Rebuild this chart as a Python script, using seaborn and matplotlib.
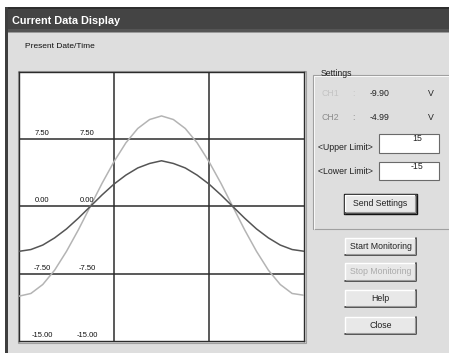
import pandas as pd
import matplotlib
matplotlib.use("Agg")
import matplotlib.pyplot as plt
import seaborn as sns
from matplotlib.patches import Rectangle

amostra = list(range(25))
ch1 = [-10.0, -9.7, -8.7, -7.1, -5.0, -2.6, 0.0, 2.6, 5.0, 7.1, 8.7, 9.7, 10.1,
       9.7, 8.7, 7.1, 5.0, 2.6, 0.0, -2.6, -5.0, -7.1, -8.7, -9.7, -9.9]
ch2 = [-5.0, -4.8, -4.3, -3.5, -2.5, -1.3, 0.0, 1.3, 2.5, 3.5, 4.3, 4.8, 5.1,
       4.8, 4.3, 3.5, 2.5, 1.3, 0.0, -1.3, -2.5, -3.5, -4.3, -4.8, -4.99]
rotulos_y = [7.5, 0.0, -7.5, -15.0]
limite_sup = 15
limite_inf = -15

df = pd.DataFrame({
    'amostra': amostra * 2,
    'valor': ch1 + ch2,
    'canal': ['CH1'] * len(ch1) + ['CH2'] * len(ch2),
})

sns.set_style("white")
plt.rcParams['font.family'] = ['Liberation Sans', 'DejaVu Sans']

W, H = 449, 353
fig = plt.figure(figsize=(W / 100, H / 100), dpi=100)
fig.patch.set_facecolor('white')

# fundo da janela em coordenadas de pixel
bg = fig.add_axes([0, 0, 1, 1])
bg.set_xlim(0, W)
bg.set_ylim(H, 0)
bg.axis('off')

cinza = '#dedede'
bg.add_patch(Rectangle((5, 7), W - 5, H - 7, color=cinza, lw=0))
bg.add_patch(Rectangle((5, 7), W - 5, 25, color='#444444', lw=0))
bg.add_patch(Rectangle((5, 7), W - 5, 2, color='#2e2e2e', lw=0))
bg.add_patch(Rectangle((5, 29), W - 5, 3, color='#555555', lw=0))
bg.add_patch(Rectangle((5, 32), W - 5, 1, color='#9a9a9a', lw=0))
bg.add_patch(Rectangle((5, 7), 3, H - 7, color='#3e3e3e', lw=0))
bg.text(12, 21, 'Current Data Display', color='white', fontsize=7.8,
        fontweight='bold', va='center', ha='left')
bg.text(25, 46, 'Present Date/Time', fontsize=6, va='center', ha='left', color='#111111')

# sombra do gráfico
bg.add_patch(Rectangle((18, 71), 288, 272, facecolor='none', edgecolor='#a0a0a0', lw=0.8))

# grupo Settings
bg.plot([313, 313, W], [229, 75, 75], color='#a0a0a0', lw=0.8)
bg.plot([313, W], [229, 229], color='#a0a0a0', lw=0.8)
bg.plot([314, 314, W], [229, 76, 76], color='white', lw=0.6)
bg.add_patch(Rectangle((319, 69), 33, 10, color=cinza, lw=0))
bg.text(321, 74, 'Settings', fontsize=6.3, va='center', ha='left', color='#222222')

fs = 6.3
bg.text(330, 93, 'CH1', fontsize=fs, va='center', ha='center', color='#c4c4c4')
bg.text(353, 93, ':', fontsize=fs, va='center', ha='center', color='#c4c4c4')
bg.text(380, 93, '-9.90', fontsize=fs, va='center', ha='center', color='#222222')
bg.text(431, 93, 'V', fontsize=fs, va='center', ha='center', color='#222222')
bg.text(330, 118, 'CH2', fontsize=fs, va='center', ha='center', color='#8c8c8c')
bg.text(353, 118, ':', fontsize=fs, va='center', ha='center', color='#8c8c8c')
bg.text(380, 118, '-4.99', fontsize=fs, va='center', ha='center', color='#222222')
bg.text(431, 118, 'V', fontsize=fs, va='center', ha='center', color='#222222')


def caixa_texto(x0, y0, x1, y1, txt):
    bg.add_patch(Rectangle((x0, y0), x1 - x0, y1 - y0, facecolor='white',
                           edgecolor='#6a6a6a', lw=0.8))
    bg.text(417, y0 + 4.5, txt, fontsize=fs, va='center', ha='center', color='#222222')


bg.text(318, 148, '<Upper Limit>', fontsize=fs, va='center', ha='left', color='#222222')
caixa_texto(379, 134, 439, 153, str(limite_sup))
bg.text(318, 171, '<Lower Limit>', fontsize=fs, va='center', ha='left', color='#222222')
caixa_texto(379, 162, 439, 180, str(limite_inf))


def botao(y0, y1, txt, cor='#222222', padrao=False):
    x0, x1 = 345, 416
    bg.add_patch(Rectangle((x0, y0), x1 - x0, y1 - y0, facecolor='#e8e8e8', lw=0))
    bg.plot([x0, x0, x1], [y1, y0, y0], color='white', lw=1.0)
    bg.plot([x0, x1, x1], [y1, y1, y0], color='#3a3a3a', lw=1.2)
    bg.plot([x0 + 1, x1 - 1, x1 - 1], [y1 - 1.3, y1 - 1.3, y0 + 1], color='#9a9a9a', lw=0.8)
    if padrao:
        bg.add_patch(Rectangle((x0 - 1, y0 - 1), x1 - x0 + 2, y1 - y0 + 2,
                               facecolor='none', edgecolor='#111111', lw=1.0))
    bg.text((x0 + x1) / 2, (y0 + y1) / 2, txt, fontsize=fs, va='center',
            ha='center', color=cor)


botao(195, 213, 'Send Settings', padrao=True)
botao(238, 255, 'Start Monitoring')
botao(263, 281, 'Stop Monitoring', cor='#ababab')
botao(290, 307, 'Help')
botao(317, 334, 'Close')

# área do gráfico
ax = fig.add_axes([19 / W, 1 - 341 / H, 285 / W, 269 / H])
ax.set_facecolor('white')
sns.lineplot(data=df, x='amostra', y='valor', hue='canal',
             palette={'CH1': '#b4b4b4', 'CH2': '#555555'},
             linewidth=1.1, legend=False, ax=ax, zorder=3)
ax.set_xlim(0, 24)
ax.set_ylim(limite_inf, limite_sup)
for x in [8, 16]:
    ax.axvline(x, color='#2c2c2c', lw=1.1, zorder=2)
for y in [7.5, 0, -7.5]:
    ax.axhline(y, color='#2c2c2c', lw=1.1, zorder=2)
for s in ax.spines.values():
    s.set_color('#2c2c2c')
    s.set_linewidth(1.0)
ax.set_xticks([])
ax.set_yticks([])
ax.set_xlabel('')
ax.set_ylabel('')
tr = ax.get_yaxis_transform()
for v in rotulos_y:
    for xf in [0.081, 0.239]:
        ax.text(xf, v + 0.25, f'{v:.2f}', transform=tr, fontsize=5.5,
                ha='center', va='bottom', color='#111111', zorder=4)

fig.savefig('out.png', dpi=100)
